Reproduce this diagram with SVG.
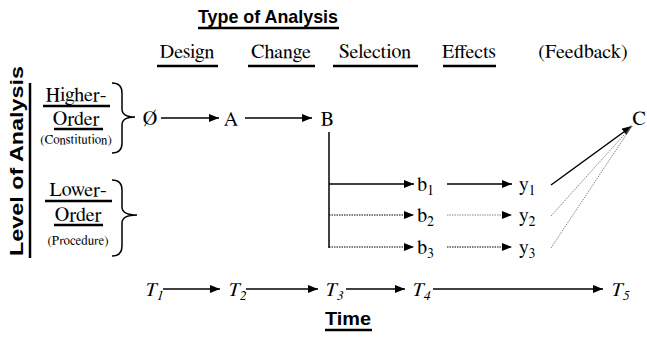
<svg xmlns="http://www.w3.org/2000/svg" width="647" height="337" viewBox="0 0 647 337">
<defs>
<marker id="ah" viewBox="0 0 10 8" refX="10" refY="4" markerWidth="10" markerHeight="8" markerUnits="userSpaceOnUse" orient="auto"><path d="M0,0 L10,4 L0,8 Z" fill="#000"/></marker>
</defs>
<style>
.t{font-size:20px;fill:#000}
.s{font-size:13px;fill:#000}
.h{font-size:19px;font-weight:bold;fill:#000}
.i{font-size:20px;font-style:italic;fill:#000}
.ul{stroke:#000;stroke-width:2.5}
.c{stroke:#000;stroke-width:1.5;fill:none}
.d{stroke:#000;stroke-width:1.2;stroke-dasharray:1.5 1;fill:none}
.g{stroke:#888;stroke-width:1;stroke-dasharray:1.5 1;fill:none}
.br{stroke:#000;stroke-width:1.5;fill:none}
</style>
<g font-family="'Nimbus Roman', 'Nimbus Roman No9 L', FreeSerif, Tinos, 'Noto Serif', 'DejaVu Serif', 'Liberation Serif', 'Times New Roman', Times, serif">
<g id="columns">
<text class="t" x="187" y="58" text-anchor="middle">Design</text>
<line class="ul" x1="157" y1="66" x2="218" y2="66"/>
<text class="t" x="281" y="58" text-anchor="middle">Change</text>
<line class="ul" x1="248" y1="66" x2="315" y2="66"/>
<text class="t" x="375" y="58" text-anchor="middle">Selection</text>
<line class="ul" x1="333" y1="66" x2="418" y2="66"/>
<text class="t" x="469" y="58" text-anchor="middle">Effects</text>
<line class="ul" x1="443" y1="66" x2="496" y2="66"/>
<text class="t" x="583" y="58" text-anchor="middle">(Feedback)</text>
</g>
<g id="higher">
<text class="t" x="76" y="101" text-anchor="middle">Higher-</text>
<line class="ul" x1="43" y1="106" x2="110" y2="106"/>
<text class="t" x="76" y="125" text-anchor="middle">Order</text>
<line class="ul" x1="54" y1="129" x2="103" y2="129"/>
<text class="s" x="76" y="144" text-anchor="middle">(Constitution)</text>
<path class="br" d="M112,83 Q122,83 122,93 L122,109 Q122,117 135,117 Q122,117 122,125 L122,143 Q122,153 112,153"/>
</g>
<g id="lower">
<text class="t" x="78" y="196" text-anchor="middle">Lower-</text>
<line class="ul" x1="45" y1="201" x2="112" y2="201"/>
<text class="t" x="78" y="221" text-anchor="middle">Order</text>
<line class="ul" x1="54" y1="225" x2="103" y2="225"/>
<text class="s" x="78" y="245" text-anchor="middle">(Procedure)</text>
<path class="br" d="M112,180 Q122,180 122,190 L122,207 Q122,215 137,215 Q122,215 122,223 L122,246 Q122,256 112,256"/>
</g>
<g id="n-phi"><text class="t" x="150" y="125" text-anchor="middle">Ø</text></g>
<g id="n-A"><text class="t" x="231" y="125" text-anchor="middle">A</text></g>
<g id="n-B"><text class="t" x="327" y="125" text-anchor="middle">B</text></g>
<g id="n-C"><text class="t" x="639" y="125" text-anchor="middle">C</text></g>
<g id="n-b1"><text class="t" x="417" y="191">b<tspan font-size="14" dy="4">1</tspan></text></g>
<g id="n-b2"><text class="t" x="417" y="222">b<tspan font-size="14" dy="4">2</tspan></text></g>
<g id="n-b3"><text class="t" x="417" y="254">b<tspan font-size="14" dy="4">3</tspan></text></g>
<g id="n-y1"><text class="t" x="519" y="191">y<tspan font-size="14" dy="4">1</tspan></text></g>
<g id="n-y2"><text class="t" x="519" y="222">y<tspan font-size="14" dy="4">2</tspan></text></g>
<g id="n-y3"><text class="t" x="519" y="254">y<tspan font-size="14" dy="4">3</tspan></text></g>
<g id="n-T1"><text class="i" x="145" y="296">T<tspan font-size="14" dy="4">1</tspan></text></g>
<g id="n-T2"><text class="i" x="228" y="296">T<tspan font-size="14" dy="4">2</tspan></text></g>
<g id="n-T3"><text class="i" x="325" y="296">T<tspan font-size="14" dy="4">3</tspan></text></g>
<g id="n-T4"><text class="i" x="412" y="296">T<tspan font-size="14" dy="4">4</tspan></text></g>
<g id="n-T5"><text class="i" x="611" y="296">T<tspan font-size="14" dy="4">5</tspan></text></g>
</g>
<g font-family="'Liberation Sans', Arial, Helvetica, sans-serif">
<g id="title">
<text class="h" x="268" y="23" text-anchor="middle" textLength="140" lengthAdjust="spacingAndGlyphs">Type of Analysis</text>
<line class="ul" x1="198" y1="28" x2="339" y2="28"/>
</g>
<g id="level">
<text class="h" transform="translate(23,161) rotate(-90)" text-anchor="middle" font-size="21" textLength="190" lengthAdjust="spacingAndGlyphs">Level of Analysis</text>
<line class="ul" x1="30" y1="83" x2="30" y2="258"/>
</g>
<g id="time">
<text class="h" x="348" y="325" text-anchor="middle" textLength="46" lengthAdjust="spacingAndGlyphs">Time</text>
<line class="ul" x1="325" y1="330" x2="372" y2="330"/>
</g>
</g>
<g id="connectors">
<line class="c" x1="161" y1="118" x2="219" y2="118" marker-end="url(#ah)"/>
<line class="c" x1="245" y1="118" x2="312" y2="118" marker-end="url(#ah)"/>
<line class="c" x1="329" y1="132" x2="329" y2="248"/>
<line class="c" x1="329" y1="184" x2="414" y2="184" marker-end="url(#ah)"/>
<line class="d" x1="329" y1="215" x2="414" y2="215" marker-end="url(#ah)"/>
<line class="d" x1="329" y1="247" x2="414" y2="247" marker-end="url(#ah)"/>
<line class="c" x1="447" y1="184" x2="512" y2="184" marker-end="url(#ah)"/>
<line class="g" x1="447" y1="215" x2="512" y2="215" marker-end="url(#ah)"/>
<line class="d" x1="447" y1="247" x2="512" y2="247" marker-end="url(#ah)"/>
<line class="c" x1="551" y1="185" x2="632" y2="126" marker-end="url(#ah)"/>
<line class="g" x1="551" y1="216" x2="632" y2="126"/>
<line class="g" x1="551" y1="248" x2="632" y2="126"/>
<line class="c" x1="163" y1="289" x2="220" y2="289" marker-end="url(#ah)"/>
<line class="c" x1="246" y1="289" x2="318" y2="289" marker-end="url(#ah)"/>
<line class="c" x1="346" y1="289" x2="405" y2="289" marker-end="url(#ah)"/>
<line class="c" x1="433" y1="289" x2="603" y2="289" marker-end="url(#ah)"/>
</g>
</svg>
